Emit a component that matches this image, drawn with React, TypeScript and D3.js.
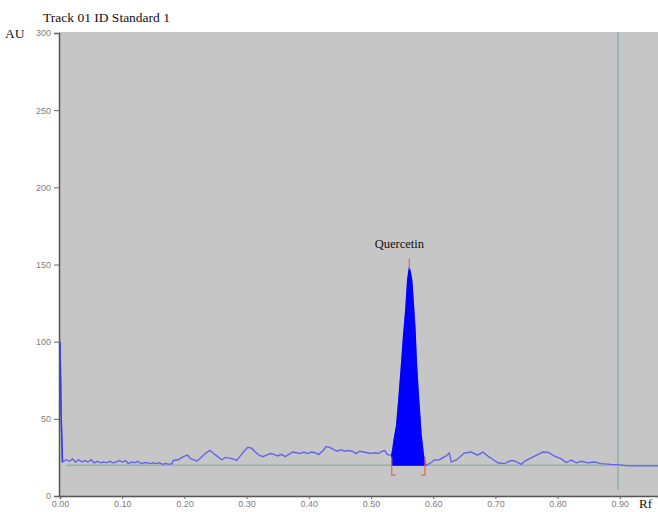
import React, { useEffect, useRef } from 'react'
import { area, axisBottom, axisLeft, format, line, scaleLinear, select } from 'd3'

// Densitogram data (Rf vs AU)
const signalRf = [
  0.000, 0.002, 0.004, 0.010, 0.015, 0.020, 0.025, 0.030, 0.035, 0.040, 0.045, 0.050, 0.055, 0.060,
  0.065, 0.070, 0.075, 0.080, 0.085, 0.090, 0.095, 0.100, 0.105, 0.110, 0.115, 0.120, 0.125, 0.130,
  0.135, 0.140, 0.145, 0.150, 0.155, 0.160, 0.165, 0.170, 0.175, 0.180, 0.182, 0.190, 0.198, 0.205,
  0.210, 0.215, 0.220, 0.228, 0.235, 0.241, 0.247, 0.252, 0.260, 0.266, 0.272, 0.278, 0.284, 0.290,
  0.296, 0.302, 0.308, 0.314, 0.320, 0.326, 0.332, 0.338, 0.344, 0.350, 0.356, 0.362, 0.368, 0.374,
  0.380, 0.386, 0.392, 0.398, 0.404, 0.410, 0.416, 0.422, 0.428, 0.434, 0.440, 0.446, 0.452, 0.458,
  0.464, 0.470, 0.476, 0.482, 0.488, 0.494, 0.500, 0.506, 0.512, 0.518, 0.522, 0.526, 0.530, 0.5333,
  0.5350, 0.537, 0.5413, 0.545, 0.5494, 0.552, 0.5558, 0.559, 0.5616, 0.5654, 0.568, 0.5707, 0.573, 0.576,
  0.5788, 0.5804, 0.5841, 0.5868, 0.589, 0.597, 0.602, 0.610, 0.620, 0.626, 0.629, 0.638, 0.650,
  0.661, 0.671, 0.680, 0.688, 0.695, 0.704, 0.715, 0.722, 0.728, 0.735, 0.741, 0.749, 0.763, 0.776,
  0.785, 0.795, 0.806, 0.814, 0.822, 0.830, 0.838, 0.849, 0.860, 0.870, 0.886, 0.897, 0.913, 0.962,
]
const signalAu = [
  100, 50, 22, 23.5, 22.5, 24, 22, 23.5, 22, 23, 22, 23.5, 21.5, 22.5,
  21.5, 22, 21.5, 22.5, 21.5, 22, 23, 22, 23, 21, 22, 21.5, 22.5, 21,
  21.5, 21.5, 21, 21.5, 21, 21.5, 20.5, 21, 20.5, 21, 23, 23.5, 25.5, 26.5,
  24, 23.5, 22.5, 25.5, 28, 29.5, 27.5, 26, 23.5, 25, 24.5, 24, 23, 26,
  29, 31.5, 31, 28.5, 26.5, 25.5, 26.5, 27.5, 27, 26, 27, 25.5, 27, 28.5,
  28, 27.5, 28.5, 27.5, 28.5, 28, 27, 29, 32, 31.5, 30, 29, 30, 29,
  29.5, 29, 27.5, 29, 28.5, 28, 27.5, 28, 27.5, 29, 29.5, 27, 26.5, 26.5,
  30, 36, 46, 64, 87, 102, 120, 140, 148, 140, 125, 108, 86, 66,
  50, 40, 27, 21, 20, 21.7, 23.3, 23.5, 25.8, 27.8, 22, 23.5, 27.8,
  28.5, 26.5, 28.5, 25.8, 24, 21.5, 21, 22.5, 23, 22, 20.5, 23, 25.8, 28.5,
  28.3, 25.8, 24, 21.7, 23.3, 21.5, 22.5, 21.5, 22, 21, 20.5, 20.3, 19.5, 19.5,
]

const peakName = 'Quercetin'
const peakStart = 0.5333
const peakEnd = 0.5868
const peakTop = 0.5616
const baselineAu = 20
const baselineRange = [0.01, 0.962]
const frontRf = 0.897

const yTicks = [0, 50, 100, 150, 200, 250, 300]
const xTicks = [0, 0.1, 0.2, 0.3, 0.4, 0.5, 0.6, 0.7, 0.8, 0.9]

const W = 658
const H = 512
const serif = 'Liberation Serif, Times New Roman, serif'

const App = () => {
  const xAxisRef = useRef<SVGGElement>(null)
  const yAxisRef = useRef<SVGGElement>(null)

  const x = scaleLinear().domain([0, 0.9614]).range([60, 658])
  const y = scaleLinear().domain([0, 300]).range([496, 33])

  const pts = signalRf.map((r, i) => [r, signalAu[i]] as [number, number])
  const peakPts = pts.filter(p => p[0] >= peakStart && p[0] <= peakEnd)

  const signalLine = line<[number, number]>().x(d => x(d[0])).y(d => y(d[1]))
  const peakArea = area<[number, number]>()
    .x(d => x(d[0]))
    .y0(y(baselineAu))
    .y1(d => y(d[1]))

  useEffect(() => {
    const yAxis = axisLeft(y).tickValues(yTicks).tickSize(5).tickPadding(3)
    const xAxis = axisBottom(x).tickValues(xTicks).tickSize(3).tickPadding(2).tickFormat(format('.2f'))
    const gy = select(yAxisRef.current).call(yAxis)
    const gx = select(xAxisRef.current).call(xAxis)
    for (const g of [gx, gy]) {
      g.selectAll('.domain').attr('stroke', '#555').attr('stroke-width', 1.5)
      g.selectAll('.tick line').attr('stroke', '#666')
      g.selectAll('.tick text')
        .attr('fill', '#808080')
        .attr('font-size', 9)
        .attr('font-family', 'Liberation Sans, Arial, sans-serif')
    }
  }, [])

  const bracket = (rf: number, dir: number) => {
    const px = x(rf)
    const y0 = y(baselineAu) - 8
    const y1 = y(baselineAu) + 10
    return `M${px},${y0}L${px},${y1}L${px + dir * 4},${y1}`
  }

  return (
    <svg width={W} height={H} style={{ position: 'absolute', left: 0, top: 0, background: '#fff' }}>
      <rect x={59} y={32} width={W - 59} height={496 - 32} fill="#c6c6c6" />

      <text x={43} y={22} fontFamily={serif} fontSize={13.5} fill="#111">
        Track 01 ID Standard 1
      </text>
      <text x={5} y={38} fontFamily={serif} fontSize={13.5} fill="#111">AU</text>
      <text x={639} y={508} fontFamily={serif} fontSize={13} fill="#111">Rf</text>

      {/* solvent front */}
      <line x1={x(frontRf)} x2={x(frontRf)} y1={32} y2={490} stroke="#8fb0ae" strokeWidth={1.5} />

      {/* baseline */}
      <line x1={x(baselineRange[0])} x2={x(baselineRange[1])} y1={y(baselineAu)} y2={y(baselineAu)}
        stroke="#8fb3b0" strokeWidth={1.5} />

      <path d={signalLine(pts) ?? ''} fill="none" stroke="#6464ee" strokeWidth={1.4} />
      <path d={signalLine(pts.slice(0, 3)) ?? ''} fill="none" stroke="#3a3aff" strokeWidth={1.5} />
      <path d={peakArea(peakPts) ?? ''} fill="#0000ff" stroke="#0000ff" strokeWidth={1.2} />

      <path d={bracket(peakStart, 1)} fill="none" stroke="#e86060" strokeWidth={1.2} />
      <path d={bracket(peakEnd, -1)} fill="none" stroke="#e86060" strokeWidth={1.2} />
      <line x1={x(peakTop)} x2={x(peakTop)} y1={y(154)} y2={y(147)} stroke="#e86060" strokeWidth={1.2} />
      <text x={x(peakTop) - 10} y={248} textAnchor="middle" fontFamily={serif} fontSize={12.5} fill="#111">
        {peakName}
      </text>

      <g ref={yAxisRef} transform={`translate(${59},0)`} />
      <g ref={xAxisRef} transform={`translate(0,${496})`} />
    </svg>
  )
}

export default App
